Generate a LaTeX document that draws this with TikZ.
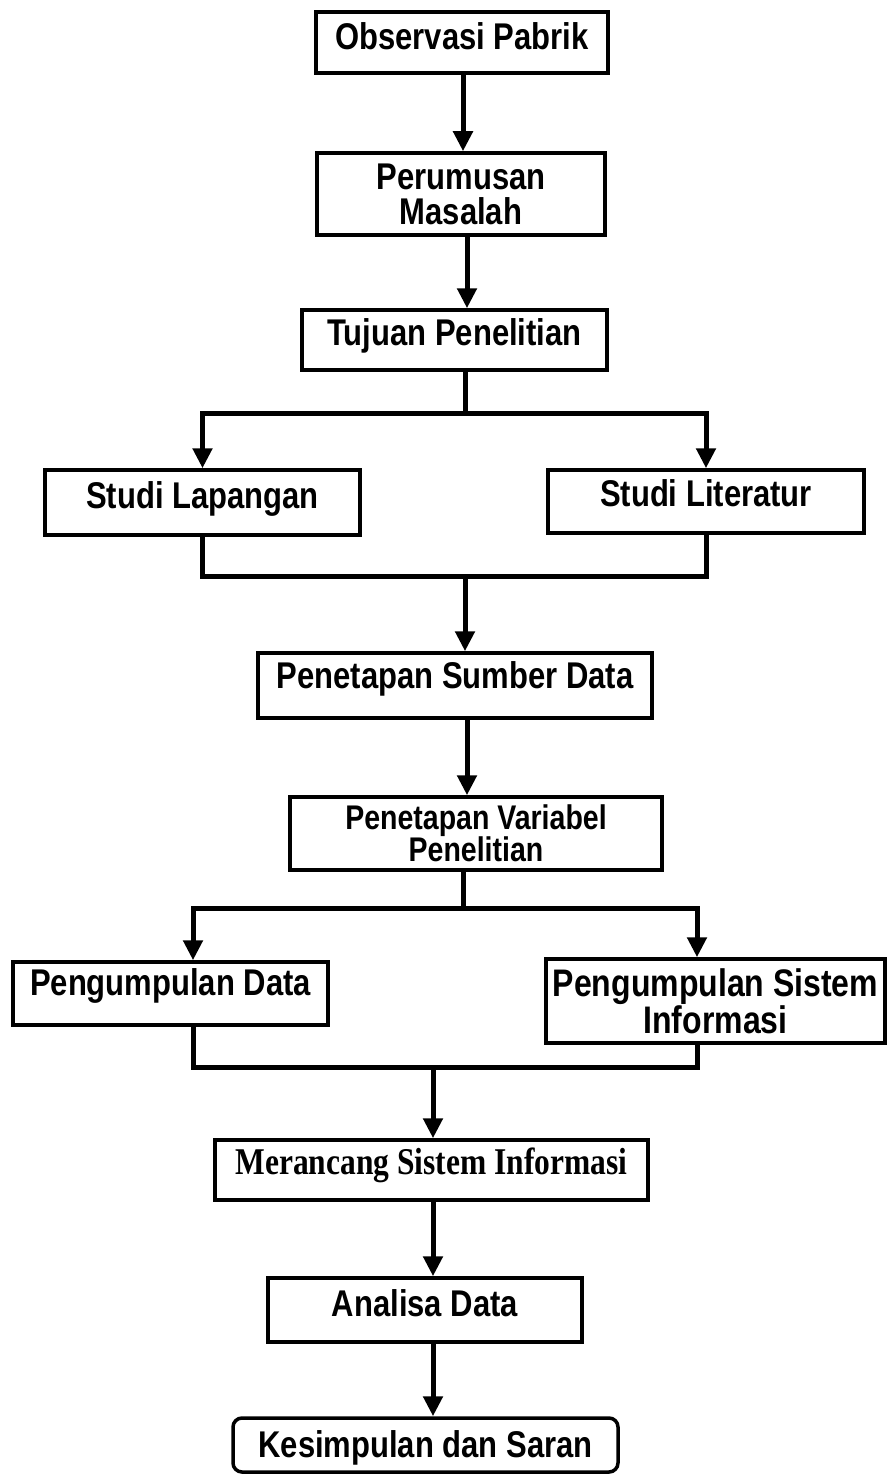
\documentclass[tikz,border=0pt]{standalone}
\usepackage{graphicx}
\usepackage{fontspec}
\setmainfont{Liberation Sans}
\newfontfamily\timesfam{Liberation Serif}
\newcommand\stretchtxt[1]{\scalebox{1}[1.2]{#1}}
\usetikzlibrary{arrows.meta}
\begin{document}
\begin{tikzpicture}[x=1pt,y=-1pt,
  flowbox/.style={draw, line width=3.5pt, inner sep=0pt, font=\bfseries\fontsize{31}{36}\selectfont},
  capd/.style={text height=26.5pt, text depth=#1},
  conn/.style={line width=5pt},
  arr/.style={conn, -{Triangle[length=20pt,width=19pt]}}]
\useasboundingbox (0,0) rectangle (889,1474);
% boxes
\node[flowbox, capd=12pt, minimum width=292pt, minimum height=61pt] (obs) at (462,42.5) {\stretchtxt{Observasi Pabrik}};
\node[flowbox, align=center, font=\bfseries\fontsize{31}{35}\selectfont, minimum width=288pt, minimum height=82pt] (per) at (461,194) {\stretchtxt{Perumusan}\\\stretchtxt{Masalah}};
\node[flowbox, capd=16pt, minimum width=305pt, minimum height=60pt] (tuj) at (454.5,340) {\stretchtxt{Tujuan Penelitian}};
\node[flowbox, capd=15pt, minimum width=315pt, minimum height=65pt] (slap) at (202.5,502.5) {\stretchtxt{Studi Lapangan}};
\node[flowbox, capd=17pt, minimum width=316pt, minimum height=63pt] (slit) at (706,501.5) {\stretchtxt{Studi Literatur}};
\node[flowbox, capd=20pt, minimum width=394pt, minimum height=65pt] (psd) at (455,685.5) {\stretchtxt{Penetapan Sumber Data}};
\node[flowbox, align=center, font=\bfseries\fontsize{28.5}{32}\selectfont, minimum width=372pt, minimum height=73pt] (pvp) at (476,833.5) {\stretchtxt{Penetapan Variabel}\\\stretchtxt{Penelitian}};
\node[flowbox, capd=22pt, minimum width=315pt, minimum height=63pt] (pd) at (170.5,993.5) {\stretchtxt{Pengumpulan Data}};
\node[flowbox, align=center, font=\bfseries\fontsize{32}{37}\selectfont, minimum width=339pt, minimum height=84pt] (psi) at (715.5,1001) {\stretchtxt{Pengumpulan Sistem}\\\stretchtxt{Informasi}};
\node[flowbox, font=\timesfam\bfseries\fontsize{31.5}{36}\selectfont, text height=25pt, text depth=16pt, minimum width=433pt, minimum height=60pt] (msi) at (431.5,1170) {\stretchtxt{Merancang Sistem Informasi}};
\node[flowbox, capd=14pt, minimum width=314pt, minimum height=64pt] (ad) at (425,1310) {\stretchtxt{Analisa Data}};
\node[flowbox, rounded corners=9pt, capd=1pt, minimum width=385pt, minimum height=54pt] (ks) at (425.5,1445) {\stretchtxt{Kesimpulan dan Saran}};
% helper coordinates
\coordinate (x1) at (463,0);
\coordinate (x2) at (467,0);
\coordinate (s1) at (465,413);
\coordinate (m1) at (465,576);
\coordinate (s2) at (463,908);
\coordinate (b1) at (193,908);
\coordinate (b2) at (697,908);
\coordinate (m2) at (433,1067);
% connectors
\draw[arr] (obs.south -| x1) -- (per.north -| x1);
\draw[arr] (per.south -| x2) -- (tuj.north -| x2);
\draw[conn] (tuj.south -| s1) -- (s1);
\draw[arr] (s1) -| (slap.north);
\draw[arr] (s1) -| (slit.north);
\draw[conn] (slap.south) |- (m1);
\draw[conn] (slit.south) |- (m1);
\draw[arr] (m1) -- (psd.north -| m1);
\draw[arr] (psd.south -| x2) -- (pvp.north -| x2);
\draw[conn] (pvp.south -| s2) -- (s2);
\draw[arr] (s2) -- (b1) -- (pd.north -| b1);
\draw[arr] (s2) -- (b2) -- (psi.north -| b2);
\draw[conn] (pd.south -| b1) -- (m2 -| b1) -- (m2 -| b2) -- (psi.south -| b2);
\draw[arr] (m2) -- (msi.north -| m2);
\draw[arr] (msi.south -| m2) -- (ad.north -| m2);
\draw[arr] (ad.south -| m2) -- (ks.north -| m2);
\end{tikzpicture}
\end{document}
